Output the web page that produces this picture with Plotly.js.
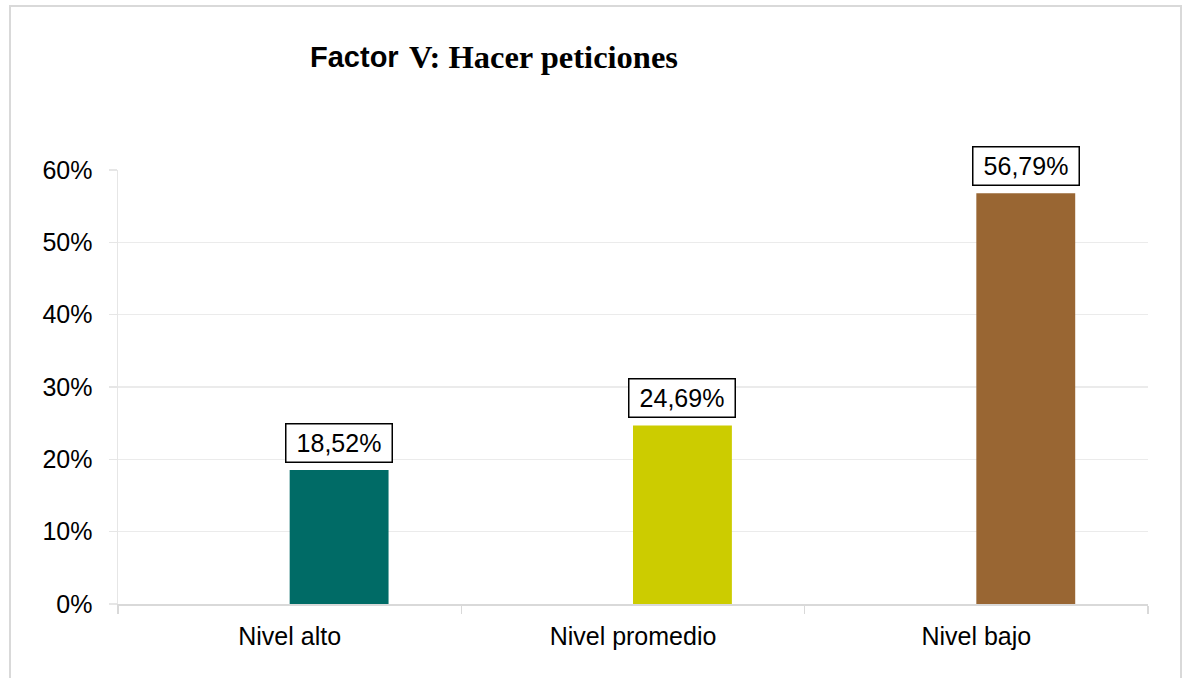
<!DOCTYPE html>
<html>
<head>
<meta charset="utf-8">
<script src="https://cdn.plot.ly/plotly-3.0.1.min.js"></script>
<style>
  html, body { margin: 0; padding: 0; background: #ffffff; }
  #frame { position: absolute; left: 9px; top: 5px; width: 1173px; height: 700px; border: 2px solid #d9d9d9; box-sizing: border-box; }
  #chart { position: absolute; left: 0; top: 0; width: 1191px; height: 678px; }
</style>
</head>
<body>
<div id="frame"></div>
<div id="chart"></div>
<script>
const categories = ['Nivel alto', 'Nivel promedio', 'Nivel bajo'];
const values = [0.1852, 0.2469, 0.5679];
const barColors = ['#006B66', '#CCCC00', '#996633'];
const labelTexts = values.map(v => (v * 100).toFixed(2).replace('.', ',') + '%');
const titleWord1 = 'Factor';
const titleRest = 'V: Hacer peticiones';

const BAR_W = 0.288;
const W = 1191, H = 678;
const M = { l: 118, r: 43, t: 170, b: 74 };
const plotW = W - M.l - M.r;
const plotH = H - M.t - M.b;

const trace = {
  type: 'bar',
  x: categories,
  y: values,
  marker: { color: barColors },
  offset: 0,
  width: BAR_W,
  hoverinfo: 'none'
};

const annotations = values.map((v, i) => ({
  x: i + BAR_W / 2,
  y: v,
  xref: 'x',
  yref: 'y',
  text: labelTexts[i],
  showarrow: false,
  xanchor: 'center',
  yanchor: 'bottom',
  yshift: 7,
  font: { family: '"Liberation Sans", Arial, sans-serif', size: 25, color: '#000000' },
  bgcolor: '#ffffff',
  bordercolor: '#000000',
  borderwidth: 1.5,
  borderpad: 4.5,
  width: 96
}));

// first word of the title, in a sans-serif bold face
annotations.push({
  xref: 'paper',
  yref: 'paper',
  x: (401 - M.l) / plotW,
  y: (H - M.b - 57) / plotH,
  xanchor: 'right',
  yanchor: 'middle',
  showarrow: false,
  text: '<b>' + titleWord1 + '</b>',
  font: { family: '"Liberation Sans", Arial, sans-serif', size: 29, color: '#000000' }
});

const layout = {
  width: W,
  height: H,
  paper_bgcolor: 'rgba(0,0,0,0)',
  plot_bgcolor: 'rgba(0,0,0,0)',
  margin: M,
  showlegend: false,
  title: {
    text: titleRest,
    font: { family: '"Liberation Serif", "Times New Roman", serif', size: 32.5, color: '#000000', weight: 'bold' },
    xref: 'container',
    yref: 'container',
    x: 409 / W,
    xanchor: 'left',
    y: 1 - 57 / H,
    yanchor: 'middle'
  },
  xaxis: {
    type: 'category',
    range: [-0.5, 2.5],
    tickson: 'boundaries',
    ticks: 'outside',
    ticklen: 8,
    tickwidth: 1.5,
    tickcolor: '#d9d9d9',
    showline: true,
    linecolor: '#d9d9d9',
    linewidth: 1.5,
    showgrid: false,
    tickfont: { family: '"Liberation Sans", Arial, sans-serif', size: 25, color: '#000000' },
    ticklabelstandoff: 9
  },
  yaxis: {
    range: [0, 0.6],
    tickvals: [0, 0.1, 0.2, 0.3, 0.4, 0.5, 0.6],
    tickformat: '.0%',
    ticks: 'outside',
    ticklen: 8,
    tickwidth: 1.5,
    tickcolor: '#e6e6e6',
    showline: true,
    linecolor: '#e6e6e6',
    linewidth: 1.5,
    showgrid: true,
    gridcolor: '#ebebeb',
    gridwidth: 1.5,
    zeroline: false,
    tickfont: { family: '"Liberation Sans", Arial, sans-serif', size: 25, color: '#000000' },
    ticklabelstandoff: 11
  },
  annotations: annotations
};

Plotly.newPlot('chart', [trace], layout, { displayModeBar: false, staticPlot: true });
</script>
</body>
</html>
